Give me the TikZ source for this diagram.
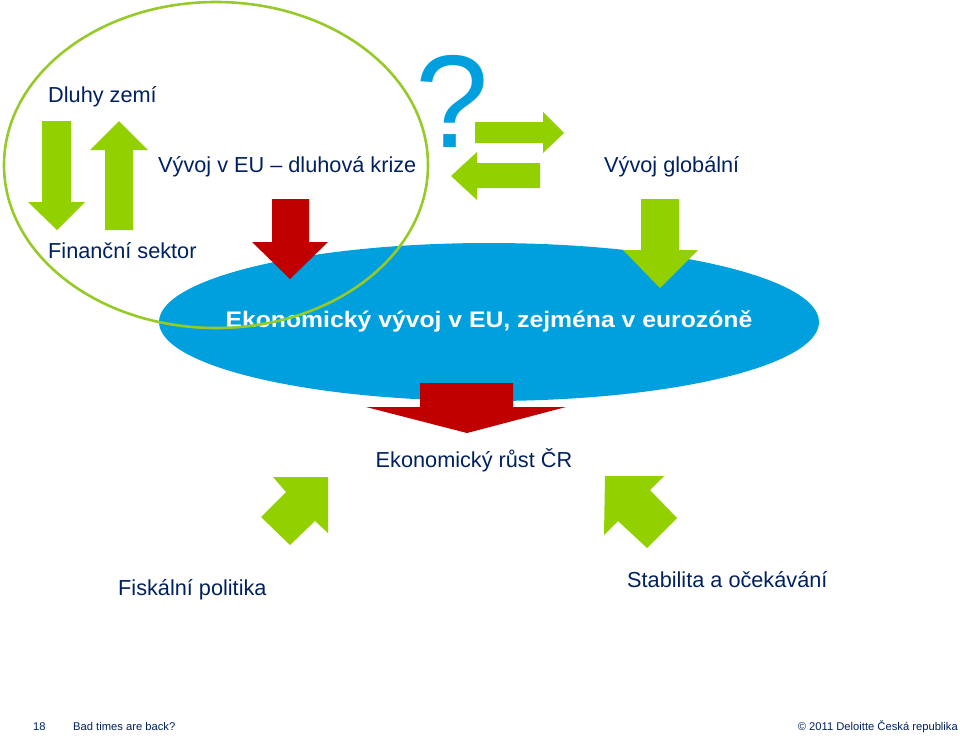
\documentclass[tikz,border=0pt]{standalone}
\usepackage{fontspec}
\setmainfont{Liberation Sans}
\usepackage{tikz}
\definecolor{dlgreen}{RGB}{146,208,0}
\definecolor{dlring}{RGB}{150,202,40}
\definecolor{dlblue}{RGB}{0,160,222}
\definecolor{dlred}{RGB}{192,0,0}
\definecolor{dlnavy}{RGB}{0,32,96}

\begin{document}
\begin{tikzpicture}[x=1pt,y=-1pt,
  lbl/.style={text=dlnavy,inner sep=0pt,anchor=base west,
    font=\fontsize{21.7}{26}\selectfont},
  foot/.style={text=dlnavy,inner sep=0pt,anchor=base west,
    font=\fontsize{11.2}{13}\selectfont},
  grnarrow/.style={fill=dlgreen},
  redarrow/.style={fill=dlred},
  ring/.style={draw=dlring,line width=2.6pt}]
  \useasboundingbox (0,0) rectangle (960,737);
  \fill[dlblue] (489,322) ellipse [x radius=330, y radius=79];
  \node[text=dlblue,inner sep=0pt,font=\fontsize{132}{132}\selectfont] (qm) at (452,101) {?};
  \fill[grnarrow] (42,121) -- (71,121) -- (71,202) -- (85,202) -- (57,230) -- (28,202) -- (42,202) -- cycle;
  \fill[grnarrow] (105,230) -- (133,230) -- (133,150) -- (148,150) -- (119,121) -- (90,150) -- (105,150) -- cycle;
  \fill[redarrow] (272,199) -- (309,199) -- (309,242) -- (328,242) -- (290,279) -- (252,242) -- (272,242) -- cycle;
  \fill[grnarrow] (475,122) -- (543,122) -- (543,112) -- (564,133) -- (543,153) -- (543,143) -- (475,143) -- cycle;
  \fill[grnarrow] (540,163) -- (477,163) -- (477,152) -- (451,176) -- (477,200) -- (477,188) -- (540,188) -- cycle;
  \fill[grnarrow] (641,199) -- (679,199) -- (679,250) -- (698,250) -- (660,288) -- (623,250) -- (641,250) -- cycle;
  \fill[redarrow] (420,383) -- (513,383) -- (513,407) -- (566,407) -- (467,433) -- (366,407) -- (420,407) -- cycle;
  \fill[grnarrow] (273,477) -- (328,477) -- (328,533) -- (315,521) -- (290,545) -- (261,517) -- (286,492) -- cycle;
  \fill[grnarrow] (605,476) -- (664,476) -- (650,490) -- (677,518) -- (647,548) -- (618,521) -- (604,535) -- cycle;
  \node[text=white,inner sep=0pt,anchor=base,font=\bfseries\fontsize{22.5}{26}\selectfont] (eu) at (489,327)
    {\scalebox{1.1}[1]{Ekonomický vývoj v EU, zejména v eurozóně}};
  \draw[ring] (216,165) ellipse [x radius=212, y radius=163];
  \node[lbl] (dluhy) at (48,102) {Dluhy zemí};
  \node[lbl] (krize) at (158,172) {Vývoj v EU – dluhová krize};
  \node[lbl] (fin) at (48,258) {Finanční sektor};
  \node[lbl] (glob) at (604,172) {Vývoj globální};
  \node[lbl,anchor=base] (rust) at (474,467) {Ekonomický růst ČR};
  \node[lbl] (fisk) at (118,595) {Fiskální politika};
  \node[lbl] (stab) at (627,587) {Stabilita a očekávání};
  \node[foot] (num) at (33,730) {18};
  \node[foot] (title) at (73,730) {Bad times are back?};
  \node[foot,anchor=base east] (copy) at (958,730) {© 2011 Deloitte Česká republika};
\end{tikzpicture}
\end{document}
